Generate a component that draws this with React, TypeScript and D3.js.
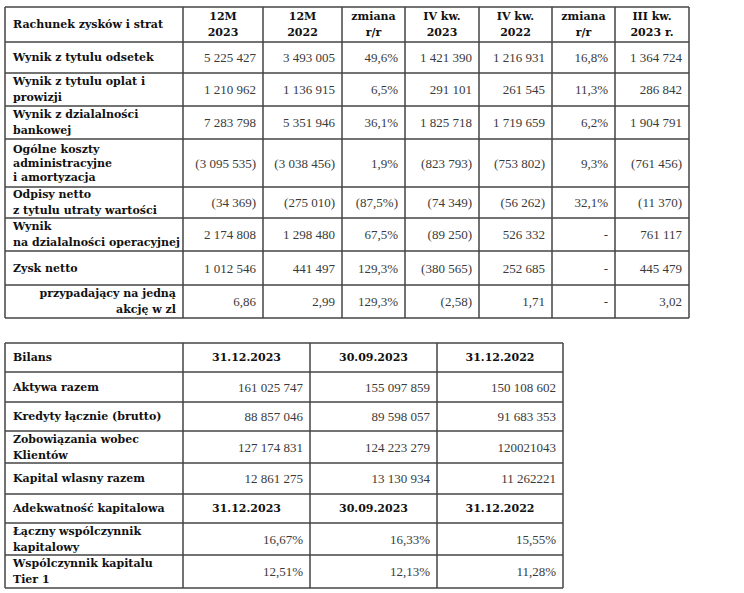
import { useEffect, useRef } from 'react'
import * as d3 from 'd3'

// Rachunek zysków i strat
const pnlHeader = [
  ['Rachunek zysków i strat'],
  ['12M', '2023'],
  ['12M', '2022'],
  ['zmiana', 'r/r'],
  ['IV kw.', '2023'],
  ['IV kw.', '2022'],
  ['zmiana', 'r/r'],
  ['III kw.', '2023 r.'],
]
const pnlLabels = [
  ['Wynik z tytulu odsetek'],
  ['Wynik z tytulu oplat i', 'prowizji'],
  ['Wynik z dzialalności', 'bankowej'],
  ['Ogólne koszty', 'administracyjne', 'i amortyzacja'],
  ['Odpisy netto', 'z tytulu utraty wartości'],
  ['Wynik', 'na dzialalności operacyjnej'],
  ['Zysk netto'],
  ['przypadający na jedną', 'akcję w zl'],
]
const fy2023 = ['5 225 427', '1 210 962', '7 283 798', '(3 095 535)', '(34 369)', '2 174 808', '1 012 546', '6,86']
const fy2022 = ['3 493 005', '1 136 915', '5 351 946', '(3 038 456)', '(275 010)', '1 298 480', '441 497', '2,99']
const fyChange = ['49,6%', '6,5%', '36,1%', '1,9%', '(87,5%)', '67,5%', '129,3%', '129,3%']
const q4y2023 = ['1 421 390', '291 101', '1 825 718', '(823 793)', '(74 349)', '(89 250)', '(380 565)', '(2,58)']
const q4y2022 = ['1 216 931', '261 545', '1 719 659', '(753 802)', '(56 262)', '526 332', '252 685', '1,71']
const q4Change = ['16,8%', '11,3%', '6,2%', '9,3%', '32,1%', '-', '-', '-']
const q3y2023 = ['1 364 724', '286 842', '1 904 791', '(761 456)', '(11 370)', '761 117', '445 479', '3,02']

// Bilans + adekwatność kapitałowa
const balanceDates = ['31.12.2023', '30.09.2023', '31.12.2022']
const balanceLabels = [
  ['Aktywa razem'],
  ['Kredyty łącznie (brutto)'],
  ['Zobowiązania wobec', 'Klientów'],
  ['Kapital wlasny razem'],
]
const bal2023Dec = ['161 025 747', '88 857 046', '127 174 831', '12 861 275']
const bal2023Sep = ['155 097 859', '89 598 057', '124 223 279', '13 130 934']
const bal2022Dec = ['150 108 602', '91 683 353', '120021043', '11 262221']
const capitalLabels = [
  ['Łączny wspólczynnik', 'kapitalowy'],
  ['Wspólczynnik kapitalu', 'Tier 1'],
]
const cap2023Dec = ['16,67%', '12,51%']
const cap2023Sep = ['16,33%', '12,13%']
const cap2022Dec = ['15,55%', '11,28%']

type Cell = { lines: string[]; align: 'start' | 'middle' | 'end'; bold: boolean }

const head = (lines: string[], align: Cell['align'] = 'middle'): Cell => ({ lines, align, bold: true })
const num = (v: string): Cell => ({ lines: [v], align: 'end', bold: false })

function drawTable(svg: d3.Selection<SVGSVGElement, unknown, null, undefined>, x0: number, y0: number,
  colW: number[], rowH: number[], rows: Cell[][]) {
  const xs = [x0, ...Array.from(d3.cumsum(colW), d => x0 + d)]
  const ys = [y0, ...Array.from(d3.cumsum(rowH), d => y0 + d)]
  const g = svg.append('g')

  rows.forEach((row, r) => {
    const cy = (ys[r] + ys[r + 1]) / 2
    row.forEach((cell, c) => {
      const lh = cell.lines.length > 2 ? 14 : 16
      const tx = cell.align === 'start' ? xs[c] + 8 : cell.align === 'end' ? xs[c + 1] - 7 : (xs[c] + xs[c + 1]) / 2
      g.append('g').selectAll('text')
        .data(cell.lines)
        .join('text')
        .attr('x', tx)
        .attr('y', (_, i) => cy + (i - (cell.lines.length - 1) / 2) * lh)
        .attr('dominant-baseline', 'central')
        .attr('text-anchor', cell.align)
        .attr('font-family', cell.bold ? '"DejaVu Serif", serif' : '"Liberation Serif", serif')
        .attr('font-size', cell.bold ? 11 : 13)
        .attr('font-weight', cell.bold ? 'bold' : 'normal')
        .attr('fill', cell.bold ? '#111' : '#3a3a3a')
        .text(d => d)
    })
  })

  g.selectAll('line.h').data(ys).join('line').attr('class', 'h')
    .attr('x1', x0).attr('x2', xs[xs.length - 1]).attr('y1', d => d).attr('y2', d => d)
    .attr('stroke', '#444').attr('stroke-width', 1.5)
  g.selectAll('line.v').data(xs).join('line').attr('class', 'v')
    .attr('y1', y0).attr('y2', ys[ys.length - 1]).attr('x1', d => d).attr('x2', d => d)
    .attr('stroke', '#444').attr('stroke-width', 1.5)
}

const App = () => {
  const svgRef = useRef<SVGSVGElement>(null)

  useEffect(() => {
    const svg = d3.select(svgRef.current!)
    svg.selectAll('*').remove()

    const pnlRows: Cell[][] = [
      pnlHeader.map((h, i) => head(h, i === 0 ? 'start' : 'middle')),
      ...pnlLabels.map((lab, i) => [
        head(lab, i === pnlLabels.length - 1 ? 'end' : 'start'),
        num(fy2023[i]), num(fy2022[i]), num(fyChange[i]),
        num(q4y2023[i]), num(q4y2022[i]), num(q4Change[i]), num(q3y2023[i]),
      ]),
    ]
    drawTable(svg, 5, 7, [178, 80, 79, 63, 74, 73, 63, 74], [35, 31, 33, 33, 48, 31, 33, 34, 33], pnlRows)

    const balRows: Cell[][] = [
      [head(['Bilans'], 'start'), ...balanceDates.map(d => head([d]))],
      ...balanceLabels.map((lab, i) => [head(lab, 'start'), num(bal2023Dec[i]), num(bal2023Sep[i]), num(bal2022Dec[i])]),
      [head(['Adekwatność kapitalowa'], 'start'), ...balanceDates.map(d => head([d]))],
      ...capitalLabels.map((lab, i) => [head(lab, 'start'), num(cap2023Dec[i]), num(cap2023Sep[i]), num(cap2022Dec[i])]),
    ]
    drawTable(svg, 5, 343, [178, 127, 127, 126], [29, 30, 29, 32, 31, 29, 32, 33], balRows)
  }, [])

  return (
    <svg ref={svgRef} width={744} height={593}
      style={{ position: 'absolute', left: 0, top: 0, background: '#fff' }} />
  )
}

export default App
